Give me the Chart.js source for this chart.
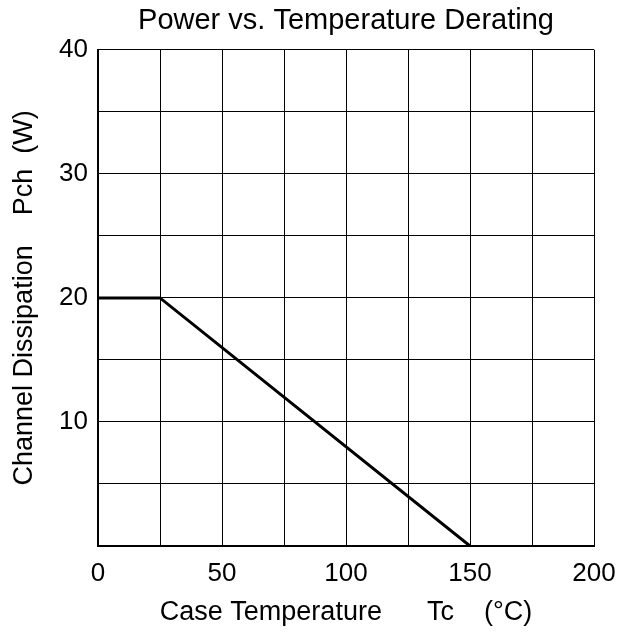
<!DOCTYPE html>
<html>
<head>
<meta charset="utf-8">
<script src="https://cdn.jsdelivr.net/npm/chart.js@4/dist/chart.umd.min.js"></script>
<style>
    html, body { margin: 0; padding: 0; background: #fff; }
    #wrap { width: 622px; height: 633px; position: relative; }
</style>
</head>
<body>
<div id="wrap"><canvas id="deratingChart"></canvas></div>
<script>
'use strict';

// Values
const caseTempC = [0, 25, 150];
const channelPowerW = [20, 20, 0];

const xLabelTicks = [0, 50, 100, 150, 200];
const yLabelTicks = [10, 20, 30, 40];

const FONT = "'Liberation Sans', Arial, Helvetica, sans-serif";

const points = caseTempC.map((t, i) => ({ x: t, y: channelPowerW[i] }));

const ctx = document.getElementById('deratingChart').getContext('2d');

new Chart(ctx, {
    type: 'line',
    data: {
        datasets: [{
            label: 'Pch',
            data: points,
            borderColor: '#000',
            borderWidth: 3,
            pointRadius: 0,
            fill: false,
            tension: 0
        }]
    },
    options: {
        responsive: true,
        maintainAspectRatio: false,
        animation: false,
        layout: { padding: { left: 0, right: 28, top: 0, bottom: 0 } },
        plugins: {
            legend: { display: false },
            tooltip: { enabled: false },
            title: {
                display: true,
                fullSize: false,
                text: 'Power vs. Temperature Derating',
                color: '#000',
                font: { family: FONT, size: 29, weight: 'normal' },
                padding: { top: 4, bottom: 11 }
            }
        },
        scales: {
            x: {
                type: 'linear',
                min: 0,
                max: 200,
                // keep the plot box where the reference has it; label overhang sits in the padding
                afterFit: s => { s.height = 87; s.paddingLeft = 0; s.paddingRight = 0; },
                ticks: {
                    stepSize: 25,
                    autoSkip: false,
                    maxRotation: 0,
                    color: '#000',
                    padding: 12,
                    font: { family: FONT, size: 26 },
                    callback: v => xLabelTicks.includes(v) ? String(v) : ''
                },
                grid: { color: '#000', lineWidth: 1, drawTicks: false },
                border: { color: '#000', width: 2 },
                title: {
                    display: true,
                    text: 'Case Temperature      Tc    (\u00b0C)',
                    color: '#000',
                    font: { family: FONT, size: 27 },
                    padding: { top: 6, bottom: 4 }
                }
            },
            y: {
                type: 'linear',
                min: 0,
                max: 40,
                afterFit: s => { s.width = 98; },
                ticks: {
                    stepSize: 5,
                    autoSkip: false,
                    color: '#000',
                    padding: 10,
                    font: { family: FONT, size: 26 },
                    callback: v => yLabelTicks.includes(v) ? String(v) : ''
                },
                grid: { color: '#000', lineWidth: 1, drawTicks: false },
                border: { color: '#000', width: 2 },
                title: {
                    display: true,
                    text: 'Channel Dissipation    Pch  (W)',
                    color: '#000',
                    font: { family: FONT, size: 27 },
                    padding: { top: 8, bottom: 4 }
                }
            }
        }
    }
});
</script>
</body>
</html>
